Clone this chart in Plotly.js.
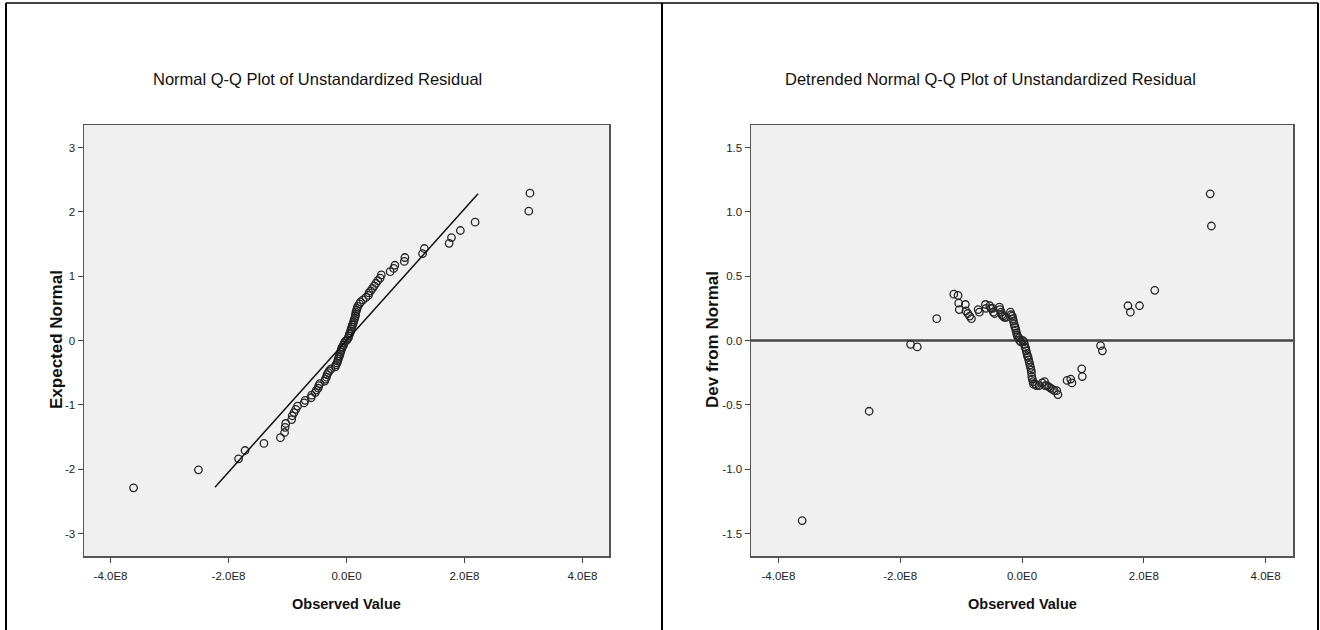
<!DOCTYPE html>
<html>
<head>
<meta charset="utf-8">
<script src="https://cdn.plot.ly/plotly-3.0.1.min.js"></script>
<style>
html,body{margin:0;padding:0;background:#fff;}
#chart{width:1320px;height:630px;}
</style>
</head>
<body>
<div id="chart"></div>
<script>
const observedValue = [
  -3.61e8,-2.51e8,-1.83e8,-1.72e8,-1.40e8,-1.12e8,-1.05e8,-1.04e8,-1.03e8,-0.93e8,
  -0.92e8,-0.89e8,-0.86e8,-0.83e8,-0.72e8,-0.70e8,-0.60e8,-0.59e8,-0.53e8,-0.51e8,
  -0.48e8,-0.47e8,-0.45e8,-0.37e8,-0.36e8,-0.34e8,-0.33e8,-0.31e8,-0.29e8,-0.26e8,
  -0.19e8,-0.18e8,-0.16e8,-0.15e8,-0.14e8,-0.13e8,-0.12e8,-0.11e8,-0.10e8,-0.09e8,
  -0.08e8,-0.07e8,-0.05e8,-0.04e8,-0.02e8,0.01e8,0.03e8,0.04e8,0.05e8,0.06e8,
  0.07e8,0.08e8,0.09e8,0.10e8,0.11e8,0.12e8,0.13e8,0.14e8,0.15e8,0.155e8,
  0.16e8,0.17e8,0.18e8,0.19e8,0.22e8,0.24e8,0.28e8,0.33e8,0.37e8,0.38e8,
  0.41e8,0.44e8,0.47e8,0.50e8,0.53e8,0.57e8,0.59e8,0.74e8,0.80e8,0.82e8,
  0.98e8,0.99e8,1.29e8,1.32e8,1.74e8,1.78e8,1.93e8,2.18e8,3.09e8,3.11e8
];
// Expected normal values (left panel)
const expectedNormal = [
  -2.29,-2.01,-1.84,-1.71,-1.60,-1.51,-1.43,-1.35,-1.29,-1.23,
  -1.17,-1.12,-1.07,-1.02,-0.97,-0.93,-0.89,-0.85,-0.81,-0.77,
  -0.74,-0.70,-0.67,-0.63,-0.60,-0.57,-0.53,-0.50,-0.47,-0.44,
  -0.41,-0.38,-0.35,-0.32,-0.29,-0.26,-0.24,-0.21,-0.18,-0.15,
  -0.12,-0.10,-0.07,-0.04,-0.01,0.01,0.04,0.07,0.10,0.12,
  0.15,0.18,0.21,0.24,0.26,0.29,0.32,0.35,0.38,0.41,
  0.44,0.47,0.50,0.53,0.57,0.60,0.63,0.67,0.70,0.74,
  0.77,0.81,0.85,0.89,0.93,0.97,1.02,1.07,1.12,1.17,
  1.23,1.29,1.35,1.43,1.51,1.60,1.71,1.84,2.01,2.29
];
// Deviation from normal (right panel)
const devFromNormal = [
  -1.40,-0.55,-0.03,-0.05,0.17,0.36,0.35,0.29,0.24,0.28,
  0.23,0.21,0.19,0.17,0.24,0.22,0.28,0.25,0.27,0.25,
  0.25,0.22,0.21,0.26,0.24,0.22,0.20,0.19,0.18,0.18,
  0.22,0.20,0.19,0.17,0.15,0.13,0.11,0.10,0.08,0.06,
  0.04,0.03,0.02,0.00,-0.01,0.00,-0.01,-0.03,-0.05,-0.06,
  -0.08,-0.10,-0.12,-0.13,-0.15,-0.17,-0.19,-0.21,-0.23,-0.25,
  -0.28,-0.30,-0.32,-0.34,-0.34,-0.35,-0.35,-0.33,-0.32,-0.35,
  -0.35,-0.36,-0.37,-0.38,-0.39,-0.39,-0.42,-0.31,-0.30,-0.33,
  -0.22,-0.28,-0.04,-0.08,0.27,0.22,0.27,0.39,1.14,0.89
];
// Reference lines
const refLineX = [-2.23e8, 2.23e8];
const refLineY = [-2.28, 2.28];
const zeroLineX = [-4.45e8, 4.45e8];
const zeroLineY = [0, 0];

// Tick labels
const xTickVals = [-4e8, -2e8, 0, 2e8, 4e8];
const xTickText = ['-4.0E8', '-2.0E8', '0.0E0', '2.0E8', '4.0E8'];
const y1TickVals = [-3, -2, -1, 0, 1, 2, 3];
const y1TickText = ['-3', '-2', '-1', '0', '1', '2', '3'];
const y2TickVals = [-1.5, -1.0, -0.5, 0, 0.5, 1.0, 1.5];
const y2TickText = ['-1.5', '-1.0', '-0.5', '0.0', '0.5', '1.0', '1.5'];

const titles = ['Normal Q-Q Plot of Unstandardized Residual', 'Detrended Normal Q-Q Plot of Unstandardized Residual'];
const xTitle = 'Observed Value';
const y1Title = 'Expected Normal';
const y2Title = 'Dev from Normal';

const NARROW = 'Liberation Sans Narrow, Arial Narrow, Liberation Sans, Arial, sans-serif';
const BOLD = 'Liberation Sans, Arial, sans-serif';
const W = 1320, H = 630;
const px = v => v / W;
const py = v => 1 - v / H;

const marker = {symbol: 'circle-open', size: 7.5, color: '#262626', line: {width: 1.3, color: '#262626'}};

const traces = [
  {x: observedValue, y: expectedNormal, type: 'scatter', mode: 'markers', marker: marker, xaxis: 'x', yaxis: 'y'},
  {x: refLineX, y: refLineY, type: 'scatter', mode: 'lines', line: {color: '#111', width: 1.5}, xaxis: 'x', yaxis: 'y'},
  {x: zeroLineX, y: zeroLineY, type: 'scatter', mode: 'lines', line: {color: '#444', width: 2.5}, xaxis: 'x2', yaxis: 'y2'},
  {x: observedValue, y: devFromNormal, type: 'scatter', mode: 'markers', marker: marker, xaxis: 'x2', yaxis: 'y2'}
];

function axisCommon() {
  return {
    showgrid: false, zeroline: false, showline: true, mirror: true,
    linecolor: '#555', linewidth: 1.5,
    ticks: 'outside', ticklen: 5, tickwidth: 1, tickcolor: '#444',
    tickfont: {family: NARROW, size: 11.5, color: '#222'},
    fixedrange: true
  };
}

const layout = {
  width: W, height: H,
  margin: {l: 0, r: 0, t: 0, b: 0},
  paper_bgcolor: '#ffffff',
  plot_bgcolor: '#f0f0f0',
  showlegend: false,
  hovermode: false,
  xaxis: Object.assign(axisCommon(), {domain: [px(84), px(609)], range: [-4.45e8, 4.45e8], anchor: 'y', tickmode: 'array', tickvals: xTickVals, ticktext: xTickText, ticklabelstandoff: 4}),
  yaxis: Object.assign(axisCommon(), {domain: [py(556), py(125)], range: [-3.35, 3.35], anchor: 'x', tickmode: 'array', tickvals: y1TickVals, ticktext: y1TickText}),
  xaxis2: Object.assign(axisCommon(), {domain: [px(751), px(1293)], range: [-4.45e8, 4.45e8], anchor: 'y2', tickmode: 'array', tickvals: xTickVals, ticktext: xTickText, ticklabelstandoff: 4}),
  yaxis2: Object.assign(axisCommon(), {domain: [py(556), py(125)], range: [-1.675, 1.675], anchor: 'x2', tickmode: 'array', tickvals: y2TickVals, ticktext: y2TickText}),
  annotations: [
    {text: titles[0], xref: 'paper', yref: 'paper', x: px(317), y: py(79), showarrow: false, xanchor: 'center', yanchor: 'middle', font: {family: NARROW, size: 16.5, color: '#111'}},
    {text: titles[1], xref: 'paper', yref: 'paper', x: px(990), y: py(79), showarrow: false, xanchor: 'center', yanchor: 'middle', font: {family: NARROW, size: 16.5, color: '#111'}},
    {text: '<b>' + xTitle + '</b>', xref: 'paper', yref: 'paper', x: px(346.5), y: py(604), showarrow: false, xanchor: 'center', yanchor: 'middle', font: {family: NARROW, size: 14.5, color: '#111'}},
    {text: '<b>' + xTitle + '</b>', xref: 'paper', yref: 'paper', x: px(1022), y: py(604), showarrow: false, xanchor: 'center', yanchor: 'middle', font: {family: NARROW, size: 14.5, color: '#111'}},
    {text: '<b>' + y1Title + '</b>', xref: 'paper', yref: 'paper', x: px(56), y: py(340), showarrow: false, textangle: -90, xanchor: 'center', yanchor: 'middle', font: {family: BOLD, size: 17, color: '#111'}},
    {text: '<b>' + y2Title + '</b>', xref: 'paper', yref: 'paper', x: px(712), y: py(340), showarrow: false, textangle: -90, xanchor: 'center', yanchor: 'middle', font: {family: BOLD, size: 17, color: '#111'}}
  ],
  shapes: [
    {type: 'line', xref: 'paper', yref: 'paper', x0: px(6), x1: px(6), y0: py(3), y1: 0, line: {color: '#000', width: 2}},
    {type: 'line', xref: 'paper', yref: 'paper', x0: px(662), x1: px(662), y0: py(3), y1: 0, line: {color: '#000', width: 2}},
    {type: 'line', xref: 'paper', yref: 'paper', x0: px(1318), x1: px(1318), y0: py(3), y1: 0, line: {color: '#000', width: 2}},
    {type: 'line', xref: 'paper', yref: 'paper', x0: px(6), x1: px(1318), y0: py(3), y1: py(3), line: {color: '#000', width: 1.5}}
  ]
};

Plotly.newPlot('chart', traces, layout, {staticPlot: true, displayModeBar: false});
</script>
</body>
</html>
